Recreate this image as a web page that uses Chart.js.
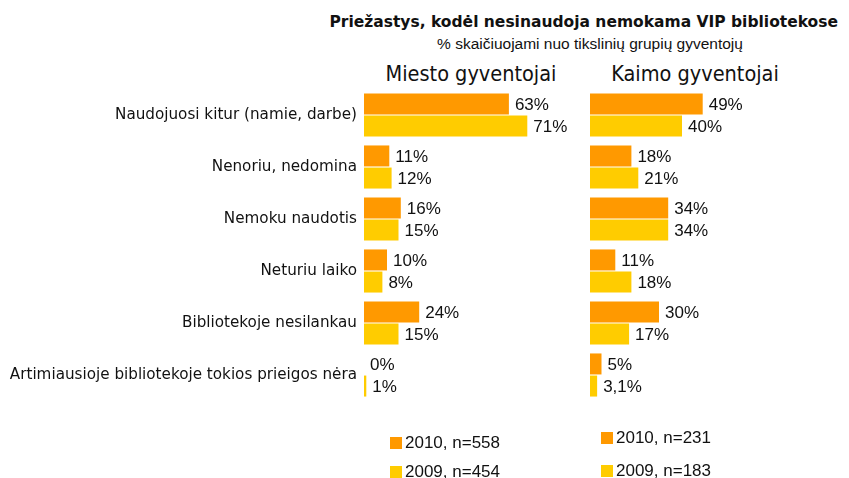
<!DOCTYPE html>
<html>
<head>
<meta charset="utf-8">
<script src="https://cdn.jsdelivr.net/npm/chart.js@4/dist/chart.umd.min.js"></script>
<style>
  body { margin: 0; background: #fff; width: 849px; height: 478px; overflow: hidden; position: relative; }
  canvas { position: absolute; top: 0; }
  .txt { position: absolute; color: #111; white-space: nowrap; }
  #title { right: 11px; top: 13px; font: bold 15.5px "DejaVu Sans", Verdana, sans-serif; }
  #subtitle { left: 0; width: 1180px; top: 35px; text-align: center; font: 15.5px "Liberation Sans", Arial, sans-serif; }
  .panel { top: 61px; font: 21.5px "DejaVu Sans Condensed", Tahoma, sans-serif; text-align: center; width: 260px; }
  .box { position: absolute; width: 12px; height: 12px; }
  .ltxt { position: absolute; color: #111; white-space: nowrap; font: 17px "Liberation Sans", Arial, sans-serif; line-height: 20px; }
</style>
</head>
<body>
<div class="txt" id="title">Priežastys, kodėl nesinaudoja nemokama VIP bibliotekose</div>
<div class="txt" id="subtitle">% skaičiuojami nuo tikslinių grupių gyventojų</div>
<div class="txt panel" style="left:341px">Miesto gyventojai</div>
<div class="txt panel" style="left:565px">Kaimo gyventojai</div>
<canvas id="cityChart" width="575" height="478" style="left:0"></canvas>
<canvas id="villageChart" width="263" height="478" style="left:586px"></canvas>
<div id="legends"></div>
<script>
const reasons = [
    'Naudojuosi kitur (namie, darbe)',
    'Nenoriu, nedomina',
    'Nemoku naudotis',
    'Neturiu laiko',
    'Bibliotekoje nesilankau',
    'Artimiausioje bibliotekoje tokios prieigos nėra'
];
const city2010 = [63, 11, 16, 10, 24, 0];
const city2009 = [71, 12, 15, 8, 15, 1];
const village2010 = [49, 18, 34, 11, 30, 5];
const village2009 = [40, 21, 34, 18, 17, 3.1];
const cityLabels = ['2010, n=558', '2009, n=454'];
const villageLabels = ['2010, n=231', '2009, n=183'];
const colors = ['#FF9900', '#FFCC00'];

// writes "63%" next to the end of each bar
const valueLabels = {
    id: 'valueLabels',
    afterDatasetsDraw(chart) {
        const c = chart.ctx;
        c.save();
        c.font = '17px "Liberation Sans", Arial, sans-serif';
        c.fillStyle = '#111';
        c.textBaseline = 'middle';
        chart.data.datasets.forEach((ds, i) => {
            chart.getDatasetMeta(i).data.forEach((bar, j) => {
                const txt = String(ds.data[j]).replace('.', ',') + '%';
                c.fillText(txt, bar.x + 6, bar.y + 1);
            });
        });
        c.restore();
    }
};

function makeChart(id, d2010, d2009, labels, xMax, showLabels, padding) {
    return new Chart(document.getElementById(id), {
        type: 'bar',
        data: {
            labels: reasons,
            datasets: [{
                label: labels[0],
                data: d2010,
                backgroundColor: colors[0]
            }, {
                label: labels[1],
                data: d2009,
                backgroundColor: colors[1]
            }]
        },
        options: {
            indexAxis: 'y',
            responsive: false,
            animation: false,
            categoryPercentage: 0.85,
            barPercentage: 0.95,
            layout: { padding: padding },
            plugins: {
                legend: false,
                tooltip: { enabled: false }
            },
            scales: {
                x: { display: false, min: 0, max: xMax },
                y: {
                    display: showLabels,
                    grid: { display: false, drawTicks: false },
                    border: { display: false },
                    ticks: {
                        padding: 7,
                        color: '#111',
                        font: { family: '"DejaVu Sans", Verdana, sans-serif', size: 15.2 }
                    },
                    afterFit(scale) { if (showLabels) scale.width = 364; }
                }
            }
        },
        plugins: [valueLabels]
    });
}

makeChart('cityChart', city2010, city2009, cityLabels, 90, true,
    { top: 89, bottom: 77, left: 0, right: 4 });
makeChart('villageChart', village2010, village2009, villageLabels, 100, false,
    { top: 89, bottom: 77, left: 4, right: 29 });

function legend(labels, x, ys) {
    const el = document.getElementById('legends');
    labels.forEach((l, i) => {
        const b = document.createElement('div');
        b.className = 'box';
        b.style.left = x + 'px';
        b.style.top = (ys[i] - 6) + 'px';
        b.style.background = colors[i];
        el.appendChild(b);
        const t = document.createElement('div');
        t.className = 'ltxt';
        t.style.left = (x + 15) + 'px';
        t.style.top = (ys[i] - 10) + 'px';
        t.textContent = l;
        el.appendChild(t);
    });
}
legend(cityLabels, 390, [443, 472]);
legend(villageLabels, 601, [438, 471]);
</script>
</body>
</html>
